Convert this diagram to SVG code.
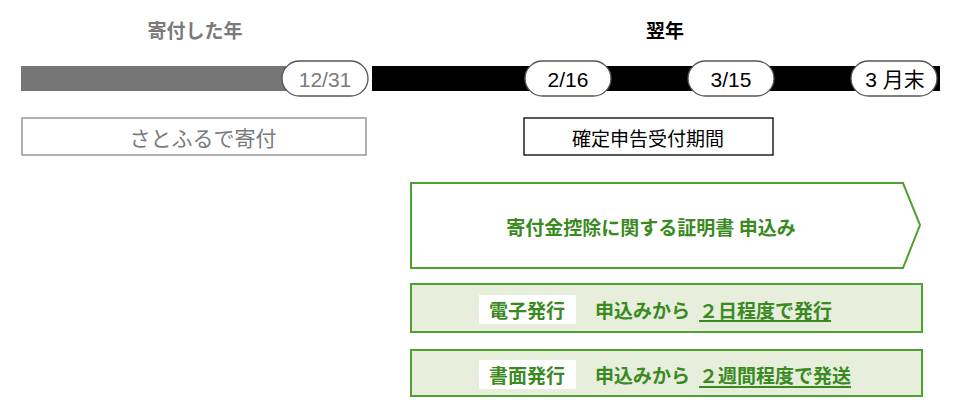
<svg xmlns="http://www.w3.org/2000/svg" width="980" height="417" viewBox="0 0 980 417">
<style>
text{font-family:"Noto Sans CJK JP","Liberation Sans",sans-serif;text-anchor:middle;dominant-baseline:central}
.pill{fill:#fff;stroke:#555;stroke-width:1.3}
.pt{font-family:"Liberation Sans","Noto Sans CJK JP",sans-serif;font-size:21px;fill:#000}
.g{fill:#3a8a1f;font-weight:bold;font-size:19px}
.s{text-anchor:start}
.gb{fill:#e7efdc;stroke:#4ea12e;stroke-width:2}
</style>
<rect width="980" height="417" fill="#fff"/>
<g id="headers">
<text x="195" y="29" font-size="19" font-weight="bold" fill="#7a7a7a">寄付した年</text>
<text x="665" y="29" font-size="19" font-weight="bold" fill="#000">翌年</text>
</g>
<g id="timeline">
<rect x="21" y="66" width="270" height="25" fill="#767676"/>
<rect x="372" y="66" width="568" height="25" fill="#000"/>
</g>
<g id="d1231"><rect class="pill" x="282" y="61" width="86" height="35" rx="17.5"/><text class="pt" x="325" y="79" style="fill:#7a7a7a">12/31</text></g>
<g id="d216"><rect class="pill" x="525" y="61" width="86" height="35" rx="17.5"/><text class="pt" x="568" y="79">2/16</text></g>
<g id="d315"><rect class="pill" x="688" y="61" width="86" height="35" rx="17.5"/><text class="pt" x="731" y="79">3/15</text></g>
<g id="dend"><rect class="pill" x="851" y="61" width="86" height="35" rx="17.5"/><text class="pt" x="895" y="79">3 月末</text></g>
<g id="satofull"><rect x="22" y="118" width="344" height="37" fill="#fff" stroke="#888" stroke-width="1.3"/><text x="203" y="137" font-size="21" fill="#7a7a7a">さとふるで寄付</text></g>
<g id="kakutei"><rect x="524" y="118" width="249" height="37" fill="#fff" stroke="#000" stroke-width="1.3"/><text x="648" y="137" font-size="19" fill="#000">確定申告受付期間</text></g>
<g id="cert"><polygon points="411,183 903,183 920,225 903,268 411,268" fill="#fff" stroke="#4ea12e" stroke-width="2"/><text class="g" x="651" y="226">寄付金控除に関する証明書 申込み</text></g>
<g id="denshi"><rect class="gb" x="411" y="284" width="511" height="48"/><rect x="479" y="295" width="97" height="29" fill="#fff"/><text class="g" x="527" y="309">電子発行</text><text class="g s" x="595" y="309">申込みから</text><text class="g s" x="699" y="309">２日程度で発行</text><line x1="699" y1="321" x2="831" y2="321" stroke="#3a8a1f" stroke-width="2"/></g>
<g id="shomen"><rect class="gb" x="411" y="350" width="511" height="46"/><rect x="479" y="360" width="97" height="29" fill="#fff"/><text class="g" x="527" y="374">書面発行</text><text class="g s" x="595" y="374">申込みから</text><text class="g s" x="699" y="374">２週間程度で発送</text><line x1="699" y1="387" x2="851" y2="387" stroke="#3a8a1f" stroke-width="2"/></g>
<g id="connectors"/>
</svg>
